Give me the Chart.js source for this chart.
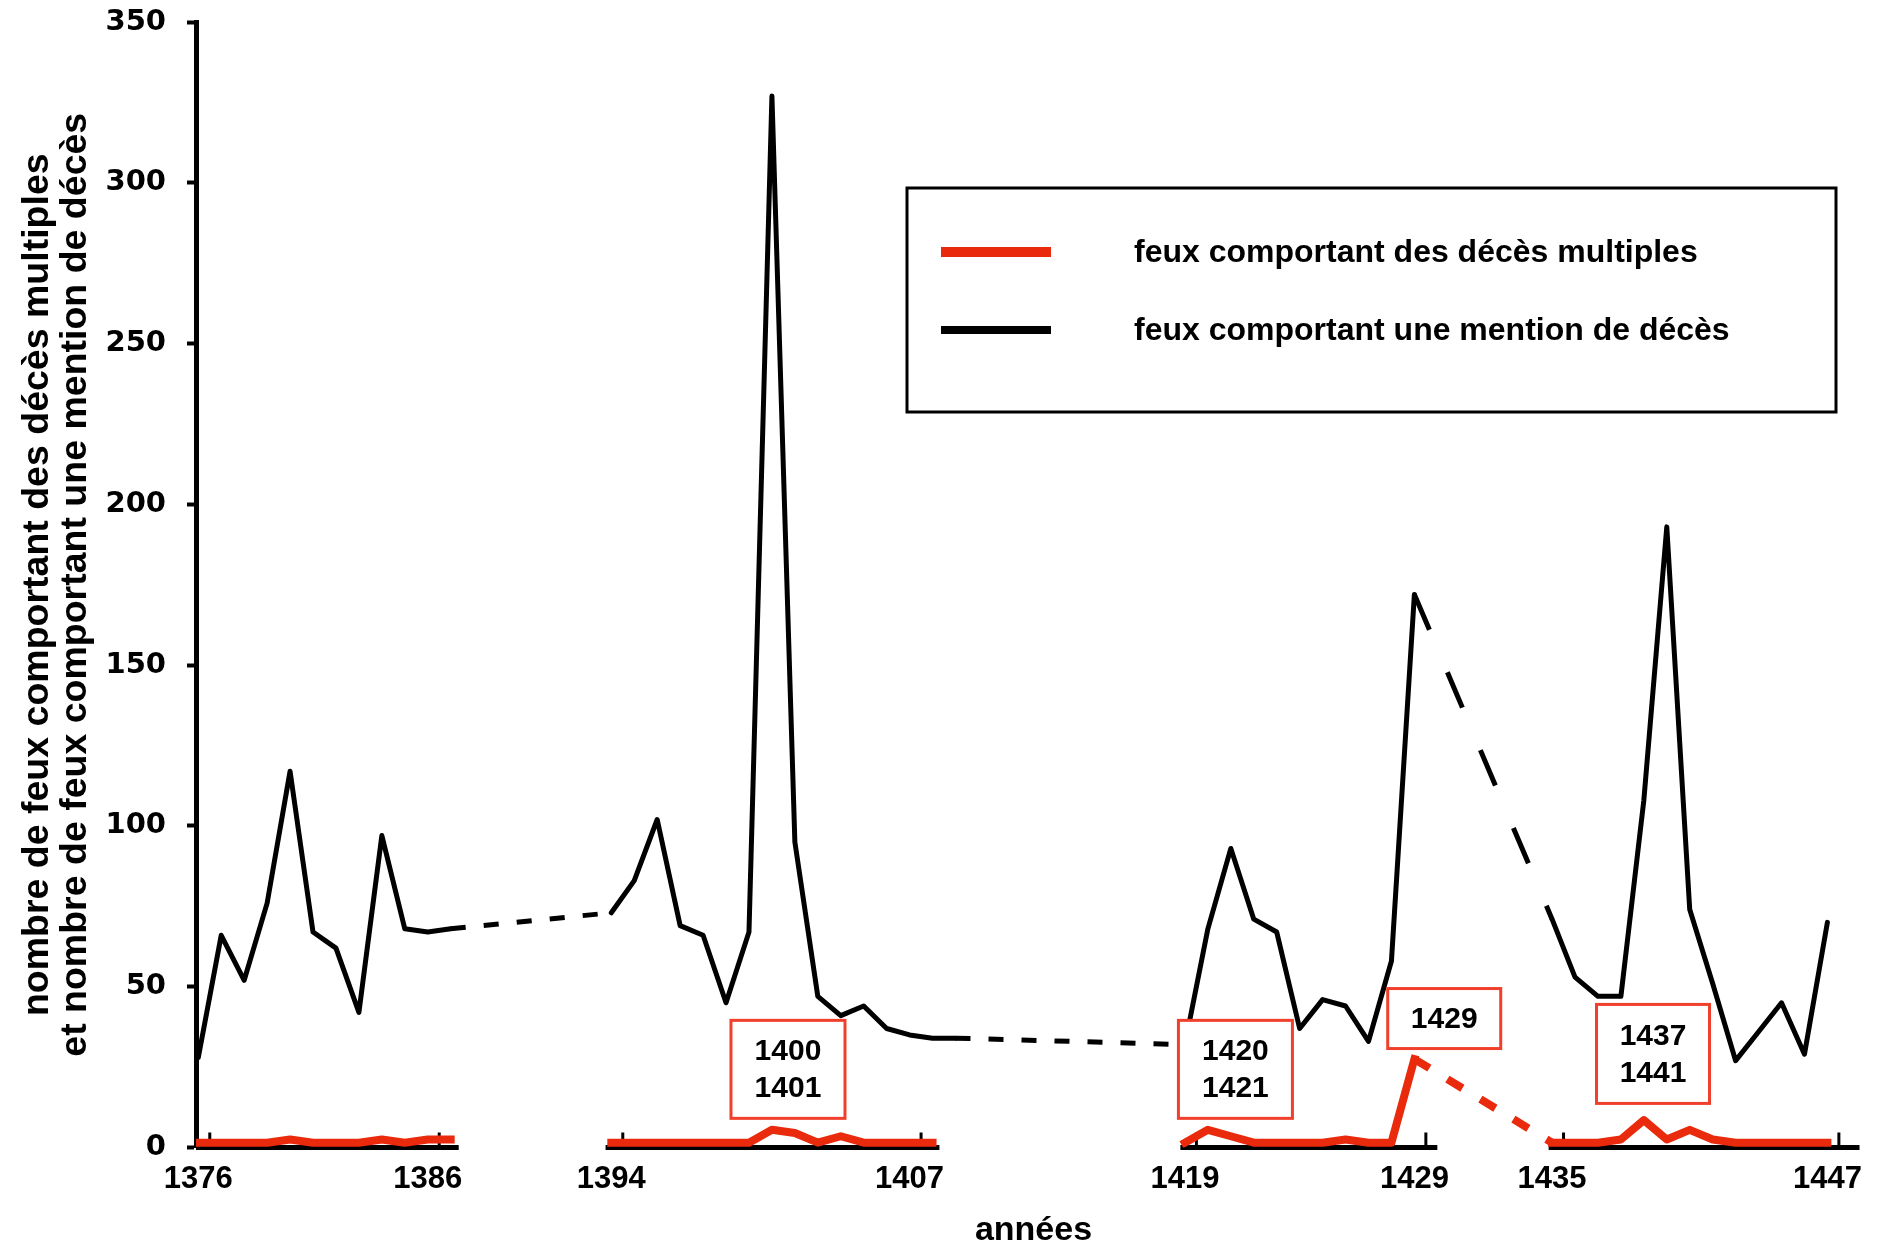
<!DOCTYPE html>
<html lang="fr">
<head>
<meta charset="utf-8">
<title>Feux comportant des décès</title>
<script src="https://cdn.jsdelivr.net/npm/chart.js@4.4.1/dist/chart.umd.min.js"></script>
<style>
  html, body { margin: 0; padding: 0; background: #fff; }
  canvas { display: block; }
</style>
</head>
<body>
<canvas id="deces" width="1898" height="1250"></canvas>
<script>
// feux comportant une mention de décès (one value per year)
const blackYears = [
  1376, 1377, 1378, 1379, 1380, 1381, 1382, 1383, 1384, 1385, 1386, 1387,
  1394, 1395, 1396, 1397, 1398, 1399, 1400, 1401, 1402, 1403, 1404, 1405, 1406, 1407, 1408, 1409,
  1419, 1420, 1421, 1422, 1423, 1424, 1425, 1426, 1427, 1428, 1429,
  1435, 1436, 1437, 1438, 1439, 1440, 1441, 1442, 1443, 1444, 1445, 1446, 1447
];
const blackValues = [
  28, 66, 52, 76, 117, 67, 62, 42, 97, 68, 67, 68,
  73, 83, 102, 69, 66, 45, 67, 327, 95, 47, 41, 44, 37, 35, 34, 34,
  32, 68, 93, 71, 67, 37, 46, 44, 33, 58, 172,
  71, 53, 47, 47, 108, 193, 74, 51, 27, 36, 45, 29, 70
];

// feux comportant des décès multiples
const redYears = [
  1376, 1377, 1378, 1379, 1380, 1381, 1382, 1383, 1384, 1385, 1386, 1387,
  1394, 1395, 1396, 1397, 1398, 1399, 1400, 1401, 1402, 1403, 1404, 1405, 1406, 1407, 1408,
  1419, 1420, 1421, 1422, 1423, 1424, 1425, 1426, 1427, 1428, 1429,
  1435, 1436, 1437, 1438, 1439, 1440, 1441, 1442, 1443, 1444, 1445, 1446, 1447
];
const redValues = [
  0, 0, 0, 0, 1, 0, 0, 0, 1, 0, 1, 1,
  0, 0, 0, 0, 0, 0, 0, 4, 3, 0, 2, 0, 0, 0, 0,
  0, 4, 2, 0, 0, 0, 0, 1, 0, 0, 26,
  0, 0, 0, 1, 7, 1, 4, 1, 0, 0, 0, 0, 0
];
// the red line is not drawn across these gaps
const redBreaks = [1387, 1408];

const xTickYears = [1376, 1386, 1394, 1407, 1419, 1429, 1435, 1447];
const yTickStep = 50;

// pieces of the x axis, only under the surveyed years
const axisPieces = [[1375.9, 1387.35], [1393.75, 1408.3], [1418.8, 1430.0], [1434.85, 1448.4]];

// year boxes: centre in data units, size in px
const yearBoxes = [
  { lines: ['1400', '1401'], x: 1401.7, y: 24.3, w: 114, h: 98 },
  { lines: ['1420', '1421'], x: 1421.2, y: 24.3, w: 114, h: 98 },
  { lines: ['1429'], x: 1430.3, y: 40.1, w: 113, h: 60 },
  { lines: ['1437', '1441'], x: 1439.4, y: 29.1, w: 113, h: 99 }
];

const RED = '#ea2a0c';
const BOX_RED = '#f0402c';
const BOLD = 'bold 30px "Liberation Sans", Arial, sans-serif';

const blackPoints = blackYears.map((year, i) => ({ x: year, y: blackValues[i] }));
const redPoints = [];
redYears.forEach((year, i) => {
  redPoints.push({ x: year, y: redValues[i] });
  if (redBreaks.includes(year)) {
    redPoints.push({ x: year + 0.5, y: null });
  }
});

// a segment jumping over missing years is dashed
function isGap(ctx) {
  const data = ctx.chart.data.datasets[ctx.datasetIndex].data;
  return data[ctx.p1DataIndex].x - data[ctx.p0DataIndex].x > 1;
}
function gapDash(ctx) {
  if (!isGap(ctx)) return undefined;
  const ds = ctx.chart.data.datasets[ctx.datasetIndex];
  const a = ds.data[ctx.p0DataIndex];
  const b = ds.data[ctx.p1DataIndex];
  const xs = ctx.chart.scales.x;
  const ys = ctx.chart.scales[ds.yAxisID];
  const dx = xs.getPixelForValue(b.x) - xs.getPixelForValue(a.x);
  const dy = ys.getPixelForValue(b.y) - ys.getPixelForValue(a.y);
  // keep the same horizontal rhythm on steep segments
  const k = Math.hypot(dx, dy) / Math.abs(dx);
  return [15 * k, 18 * k];
}
function gapCap(ctx) {
  return isGap(ctx) ? 'butt' : undefined;
}

const axisPlugin = {
  id: 'axisPieces',
  beforeDatasetsDraw(chart) {
    const { ctx, scales: { x, y } } = chart;
    const y0 = y.getPixelForValue(0);
    ctx.save();
    ctx.strokeStyle = '#000';
    ctx.lineCap = 'butt';
    ctx.lineWidth = 5;
    axisPieces.forEach(([a, b]) => {
      ctx.beginPath();
      ctx.moveTo(x.getPixelForValue(a), y0);
      ctx.lineTo(x.getPixelForValue(b), y0);
      ctx.stroke();
    });
    // small upward tick marks between categories
    ctx.lineWidth = 3;
    xTickYears.forEach((year) => {
      const px = x.getPixelForValue(year + 0.5);
      ctx.beginPath();
      ctx.moveTo(px, y0);
      ctx.lineTo(px, y0 - 15);
      ctx.stroke();
    });
    ctx.restore();
  }
};

const boxesPlugin = {
  id: 'yearBoxes',
  afterDatasetsDraw(chart) {
    const { ctx, scales: { x, y } } = chart;
    ctx.save();
    yearBoxes.forEach((box) => {
      const cx = x.getPixelForValue(box.x);
      const cy = y.getPixelForValue(box.y);
      const left = cx - box.w / 2;
      const top = cy - box.h / 2;
      ctx.fillStyle = '#fff';
      ctx.fillRect(left, top, box.w, box.h);
      ctx.strokeStyle = BOX_RED;
      ctx.lineWidth = 3;
      ctx.strokeRect(left, top, box.w, box.h);
      ctx.fillStyle = '#000';
      ctx.font = BOLD;
      ctx.textAlign = 'center';
      ctx.textBaseline = 'middle';
      const step = 37;
      const first = cy - (box.lines.length - 1) * step / 2 + 1;
      box.lines.forEach((line, i) => {
        ctx.fillText(line, cx, first + i * step);
      });
    });
    ctx.restore();
  }
};

// boxed legend in the upper right
const legendPlugin = {
  id: 'boxedLegend',
  afterDraw(chart) {
    const ctx = chart.ctx;
    ctx.save();
    ctx.strokeStyle = '#000';
    ctx.lineWidth = 3;
    ctx.strokeRect(907, 188, 929, 224);

    ctx.lineCap = 'butt';
    ctx.lineWidth = 10;
    ctx.strokeStyle = RED;
    ctx.beginPath();
    ctx.moveTo(941, 252);
    ctx.lineTo(1051, 252);
    ctx.stroke();
    ctx.lineWidth = 8;
    ctx.strokeStyle = '#000';
    ctx.beginPath();
    ctx.moveTo(941, 330);
    ctx.lineTo(1051, 330);
    ctx.stroke();

    ctx.fillStyle = '#000';
    ctx.font = 'bold 32px "Liberation Sans", Arial, sans-serif';
    ctx.textAlign = 'left';
    ctx.textBaseline = 'middle';
    ctx.fillText(chart.data.datasets[0].label, 1134, 253);
    ctx.fillText(chart.data.datasets[1].label, 1134, 331);
    ctx.restore();
  }
};

const chart = new Chart(document.getElementById('deces'), {
  type: 'line',
  data: {
    datasets: [
      {
        label: 'feux comportant des décès multiples',
        data: redPoints,
        yAxisID: 'y2',
        borderColor: RED,
        borderWidth: 8,
        borderCapStyle: 'square',
        borderJoinStyle: 'round',
        pointRadius: 0,
        tension: 0,
        spanGaps: false,
        segment: { borderDash: gapDash, borderCapStyle: gapCap }
      },
      {
        label: 'feux comportant une mention de décès',
        data: blackPoints,
        yAxisID: 'y',
        borderColor: '#000',
        borderWidth: 5,
        borderCapStyle: 'round',
        borderJoinStyle: 'round',
        pointRadius: 0,
        tension: 0,
        segment: { borderDash: gapDash, borderCapStyle: gapCap }
      }
    ]
  },
  options: {
    responsive: false,
    animation: false,
    events: [],
    layout: { padding: { left: 0, right: 27, top: 22, bottom: 0 } },
    plugins: {
      legend: { display: false },
      tooltip: { enabled: false }
    },
    scales: {
      x: {
        type: 'linear',
        min: 1375.9,
        max: 1448.9,
        border: { display: false },
        grid: { display: false, drawTicks: false },
        afterBuildTicks: (scale) => {
          scale.ticks = xTickYears.map((v) => ({ value: v }));
        },
        afterFit: (scale) => {
          scale.height = 102.5;
          scale.paddingLeft = 0;
          scale.paddingRight = 0;
        },
        ticks: {
          autoSkip: false,
          maxRotation: 0,
          padding: 13,
          color: '#000',
          font: { family: '"Liberation Sans", Arial, sans-serif', size: 31, weight: 'bold' },
          callback: (v) => String(v)
        },
        title: {
          display: true,
          text: 'années',
          color: '#000',
          padding: { top: 0, bottom: 2 },
          font: { family: '"Liberation Sans", Arial, sans-serif', size: 34, weight: 'bold', lineHeight: 1 }
        }
      },
      y: {
        min: 0,
        max: 350,
        border: { display: true, color: '#000', width: 5 },
        grid: { drawOnChartArea: false, drawTicks: true, tickLength: 9, tickWidth: 4, tickColor: '#000' },
        afterFit: (scale) => {
          scale.width = 196;
          scale.paddingTop = 0;
          scale.paddingBottom = 0;
        },
        ticks: {
          stepSize: yTickStep,
          padding: 21,
          color: '#000',
          font: { family: '"DejaVu Sans", sans-serif', size: 29, weight: 'bold' }
        },
        title: {
          display: true,
          text: ['nombre de feux comportant des décès multiples', 'et nombre de feux comportant une mention de décès'],
          color: '#000',
          padding: { top: 18, bottom: 0 },
          font: { family: '"Liberation Sans", Arial, sans-serif', size: 37.5, weight: 'bold', lineHeight: 1.03 }
        }
      },
      // same span as y, the red line sits just above the black axis
      y2: {
        display: false,
        min: -1.5,
        max: 348.5
      }
    }
  },
  plugins: [axisPlugin, boxesPlugin, legendPlugin]
});
</script>
</body>
</html>
